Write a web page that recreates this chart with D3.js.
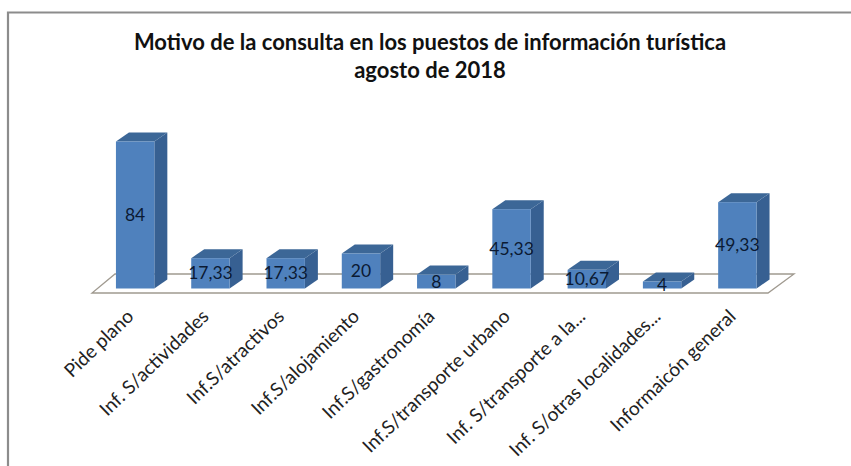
<!DOCTYPE html>
<html>
<head>
<meta charset="utf-8">
<script src="https://cdnjs.cloudflare.com/ajax/libs/d3/7.8.5/d3.min.js"></script>
<style>
  html, body { margin: 0; padding: 0; background: #fff; }
  svg { display: block; font-family: Lato, "Open Sans", sans-serif; }
</style>
</head>
<body>
<div id="chart"></div>
<script>
const categories = [
  "Pide plano",
  "Inf. S/actividades",
  "Inf.S/atractivos",
  "Inf.S/alojamiento",
  "Inf.S/gastronomía",
  "Inf.S/transporte urbano",
  "Inf. S/transporte a la...",
  "Inf. S/otras localidades...",
  "Informaicón general"
];
const values = [84, 17.33, 17.33, 20, 8, 45.33, 10.67, 4, 49.33];
const valueLabels = ["84", "17,33", "17,33", "20", "8", "45,33", "10,67", "4", "49,33"];
const titleLines = [
  "Motivo de la consulta en los puestos de información turística",
  "agosto de 2018"
];

const width = 851;
const height = 466;
const depth = { dx: 13, dy: -9 };

const svg = d3.select("#chart").append("svg")
  .attr("width", width)
  .attr("height", height);

// chart frame, only the top and left edges are visible in the crop
svg.append("path")
  .attr("d", `M8,${height} V12.5 H${width}`)
  .attr("fill", "none")
  .attr("stroke", "#8c8c8c")
  .attr("stroke-width", 2.2);

svg.selectAll(".title")
  .data(titleLines)
  .enter()
  .append("text")
  .attr("class", "title")
  .attr("x", 430)
  .attr("y", (d, i) => 50 + i * 28)
  .attr("text-anchor", "middle")
  .attr("font-size", 22)
  .attr("font-weight", 700)
  .attr("fill", "#111")
  .text((d) => d);

const x = d3.scaleBand()
  .domain(categories)
  .range([97.5, 775])
  .paddingInner(0.49)
  .paddingOuter(0.245);

const y = d3.scaleLinear()
  .domain([0, 84])
  .range([288.5, 141.5]);

// floor of the 3d plot
const floor = { left: 92, right: 768, front: 293, backDx: 26, backDy: -19 };
svg.append("path")
  .attr("d", `M${floor.left},${floor.front} H${floor.right} l${floor.backDx},${floor.backDy} H${floor.left + floor.backDx - 3} Z`)
  .attr("fill", "#fff")
  .attr("stroke", "#a09a90")
  .attr("stroke-width", 1.3);

const bars = svg.selectAll(".bar")
  .data(categories.map((name, i) => ({ name, value: values[i], label: valueLabels[i] })))
  .enter()
  .append("g")
  .attr("class", "bar");

// right side
bars.append("path")
  .attr("fill", "#376092")
  .attr("d", (d) => {
    const r = x(d.name) + x.bandwidth();
    return `M${r},${y(0)} L${r},${y(d.value)} l${depth.dx},${depth.dy} L${r + depth.dx},${y(0) + depth.dy} Z`;
  });

// top
bars.append("path")
  .attr("fill", "#3c6797")
  .attr("d", (d) => {
    const l = x(d.name);
    return `M${l},${y(d.value)} h${x.bandwidth()} l${depth.dx},${depth.dy} h${-x.bandwidth()} Z`;
  });

// front
bars.append("rect")
  .attr("fill", "#4f81bd")
  .attr("x", (d) => x(d.name))
  .attr("y", (d) => y(d.value))
  .attr("width", x.bandwidth())
  .attr("height", (d) => y(0) - y(d.value));

bars.append("text")
  .attr("x", (d) => x(d.name) + x.bandwidth() / 2)
  .attr("y", (d) => (y(0) + y(d.value)) / 2)
  .attr("dy", "0.35em")
  .attr("text-anchor", "middle")
  .attr("font-size", 17.5)
  .attr("fill", "#0b1a33")
  .text((d) => d.label);

// category axis, ticks and domain hidden like the original
const xAxis = d3.axisBottom(x).tickSize(0).tickPadding(0);
const axisG = svg.append("g")
  .attr("transform", "translate(-5, 313)")
  .call(xAxis);
axisG.select(".domain").remove();
axisG.selectAll("text")
  .attr("transform", "rotate(-44)")
  .attr("x", 0)
  .attr("y", 0)
  .attr("dy", "0.35em")
  .style("text-anchor", "end")
  .style("font-family", "Lato, 'Open Sans', sans-serif")
  .style("font-size", "19px")
  .style("fill", "#222");
</script>
</body>
</html>
